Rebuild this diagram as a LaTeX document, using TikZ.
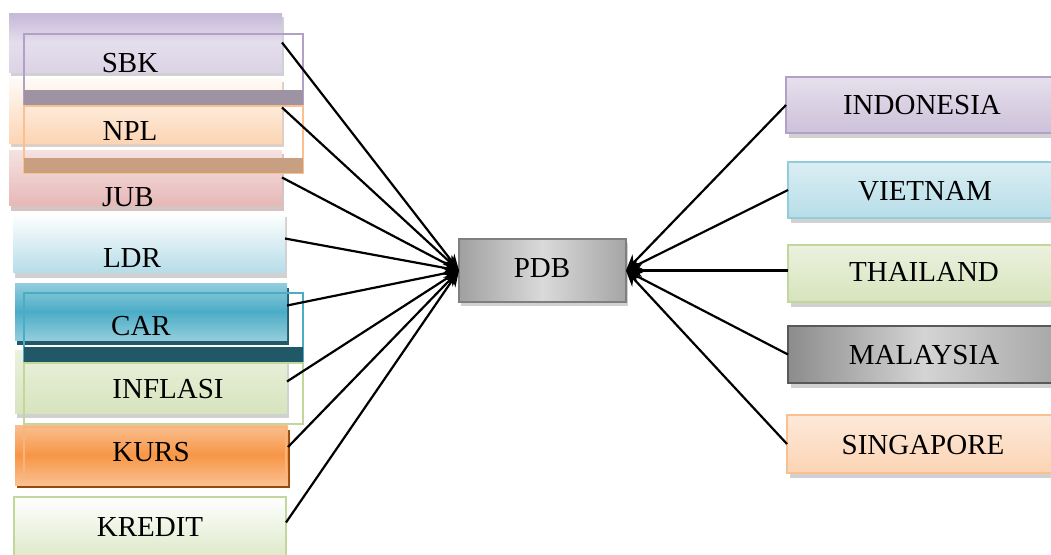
\documentclass[tikz,border=0pt]{standalone}
\usepackage{fontspec}
\setmainfont{Liberation Serif}
\usetikzlibrary{arrows.meta,fit}
\definecolor{cPurLine}{HTML}{B2A1C7}
\definecolor{cPurBar}{HTML}{9E93A3}
\definecolor{cOrLine}{HTML}{FAC090}
\definecolor{cBrBar}{HTML}{C89F80}
\definecolor{cTeal}{HTML}{4BACC6}
\definecolor{cTealDark}{HTML}{215868}
\definecolor{cGreenLine}{HTML}{C3D69B}
\definecolor{cKursShadow}{HTML}{984807}
\definecolor{sbkTop}{HTML}{C5B8D8}
\definecolor{sbkMid}{HTML}{E4DEEC}
\definecolor{sbkBot}{HTML}{DCD4E6}
\definecolor{nplTop}{HTML}{FFFBF7}
\definecolor{nplBot}{HTML}{FCD5B4}
\definecolor{nplShd}{HTML}{DDCFC4}
\definecolor{jubTop}{HTML}{F5E2E1}
\definecolor{jubBot}{HTML}{E6B9B8}
\definecolor{jubShd}{HTML}{D6C4C3}
\definecolor{ldrBot}{HTML}{B7DDE8}
\definecolor{carTop}{HTML}{93CDDD}
\definecolor{carBot}{HTML}{92CDDC}
\definecolor{carShd}{HTML}{215968}
\definecolor{grTop}{HTML}{EBF1DE}
\definecolor{grBot}{HTML}{D7E4BD}
\definecolor{krTop}{HTML}{FABF8F}
\definecolor{krMid}{HTML}{F79646}
\definecolor{krBot}{HTML}{FAC090}
\definecolor{krIn}{HTML}{F9B47E}
\definecolor{kdBot}{HTML}{DCE8C6}
\definecolor{pdbL}{HTML}{A0A0A0}
\definecolor{pdbM}{HTML}{DADADA}
\definecolor{pdbR}{HTML}{A5A5A5}
\definecolor{pdbLine}{HTML}{7F7F7F}
\definecolor{inTop}{HTML}{E6E0EC}
\definecolor{inBot}{HTML}{CCC1DA}
\definecolor{viLine}{HTML}{92CDDC}
\definecolor{viTop}{HTML}{DAEEF3}
\definecolor{viBot}{HTML}{B7DDE8}
\definecolor{maLine}{HTML}{595959}
\definecolor{maL}{HTML}{8C8C8C}
\definecolor{maM}{HTML}{D4D4D4}
\definecolor{maR}{HTML}{A6A6A6}
\definecolor{sgTop}{HTML}{FDE9D9}
\definecolor{sgBot}{HTML}{FBD4B4}
\begin{document}
\begin{tikzpicture}[x=1pt,y=-1pt,
  box/.style={inner sep=0pt,outer sep=0pt,rectangle},
  lbl/.style={inner sep=0pt,font=\fontsize{29}{32}\selectfont},
  shd/.style={fill=black!18},
  conn/.style={line width=2.2pt,-{Stealth[length=16pt,width=13pt]}},
  frame/.style={line width=1.5pt}]
\useasboundingbox (0,0) rectangle (1051,554);
\fill[white] (0,0) rectangle (1051,554);

% ---- left boxes (fills) ----
\fill[shd] (11,17) rectangle (284,76);
\node[box,fit={(9,13) (282,72)},top color=sbkTop,bottom color=sbkBot,middle color=sbkMid] (sbk) {};
\fill[nplShd] (11,82) rectangle (284,147);
\node[box,fit={(9,78) (282,143)},top color=nplTop,bottom color=nplBot] (npl) {};
\fill[jubShd] (11,154) rectangle (284,211);
\node[box,fit={(9,150) (282,205)},top color=jubTop,bottom color=jubBot] (jub) {};
\fill[shd] (15,217) rectangle (287,278);
\node[box,fit={(13,213) (285,272)},top color=white,bottom color=ldrBot] (ldr) {};
\fill[carShd] (17,288) rectangle (289,345);
\node[box,fit={(15,283) (287,340)},top color=carTop,bottom color=carBot,middle color=cTeal] (car) {};
\fill[shd] (17,355) rectangle (289,418);
\node[box,fit={(15,350) (287,413)},top color=grTop,bottom color=grBot] (inflasi) {};
\fill[cKursShadow] (17,430) rectangle (290,488);
\node[box,fit={(15,425) (288,485)},top color=krTop,bottom color=krBot,middle color=krMid] (kurs) {};
\draw[line width=1.2pt,krIn] (24,427) rectangle (286,478);
\node[box,fit={(14,497) (286,560)},draw=cGreenLine,line width=2pt,top color=white,bottom color=kdBot] (kredit) {};

% ---- overlapping frames and bars ----
\draw[frame,cPurLine] (24,34) rectangle (303,106);
\fill[cPurBar] (24,90) rectangle (303,106);
\draw[frame,cOrLine] (24,106) rectangle (303,173);
\fill[cBrBar] (24,158) rectangle (303,173);
\draw[frame,cTeal] (24,293) rectangle (303,363);
\fill[cTealDark] (24,347) rectangle (303,363);
\draw[frame,cGreenLine] (24,363) rectangle (303,424);

% ---- centre ----
\fill[shd] (461,243) rectangle (628,306);
\node[box,fit={(459,239) (626,302)},draw=pdbLine,line width=1.5pt,left color=pdbL,right color=pdbR,middle color=pdbM] (pdb) {};

% ---- right boxes ----
\fill[shd] (789,81) rectangle (1060,138);
\node[box,fit={(786,77) (1060,133)},draw=cPurLine,line width=2pt,top color=inTop,bottom color=inBot] (indo) {};
\fill[shd] (791,166) rectangle (1060,223);
\node[box,fit={(788,162) (1060,218)},draw=viLine,line width=2pt,top color=viTop,bottom color=viBot] (viet) {};
\fill[shd] (791,249) rectangle (1060,307);
\node[box,fit={(788,245) (1060,302)},draw=cGreenLine,line width=2pt,top color=grTop,bottom color=grBot] (thai) {};
\fill[shd] (791,330) rectangle (1060,388);
\node[box,fit={(788,326) (1060,383)},draw=maLine,line width=2pt,left color=maL,right color=maR,middle color=maM] (malay) {};
\fill[shd] (790,419) rectangle (1060,478);
\node[box,fit={(787,415) (1060,473)},draw=cOrLine,line width=2pt,top color=sgTop,bottom color=sgBot] (sing) {};

% ---- labels ----
\node[lbl] (tsbk) at (130,63) {SBK};
\node[lbl] (tnpl) at (130,131) {NPL};
\node[lbl] (tjub) at (128,197) {JUB};
\node[lbl] (tldr) at (132,258) {LDR};
\node[lbl] (tcar) at (141,326) {CAR};
\node[lbl] (tinf) at (168,389) {INFLASI};
\node[lbl] (tkurs) at (151,452) {KURS};
\node[lbl] (tkred) at (150,527) {KREDIT};
\node[lbl] (tpdb) at (542,268) {PDB};
\node[lbl] (tindo) at (922,105) {INDONESIA};
\node[lbl] (tviet) at (925,191) {VIETNAM};
\node[lbl] (tthai) at (924,272) {THAILAND};
\node[lbl] (tmal) at (924,355) {MALAYSIA};
\node[lbl] (tsing) at (923,445) {SINGAPORE};

% ---- connectors ----
\draw[conn] (sbk.east) -- (pdb.west);
\draw[conn] ([yshift=3pt]npl.east) -- (pdb.west);
\draw[conn] (jub.east) -- (pdb.west);
\draw[conn] ([yshift=4pt]ldr.east) -- (pdb.west);
\draw[conn] ([yshift=6pt]car.east) -- (pdb.west);
\draw[conn] (inflasi.east) -- (pdb.west);
\draw[conn] ([yshift=8pt]kurs.east) -- (pdb.west);
\draw[conn] ([yshift=6pt]kredit.east) -- (pdb.west);
\draw[conn] (indo.west) -- (pdb.east);
\draw[conn] (viet.west) -- (pdb.east);
\draw[conn] ([yshift=3pt]thai.west) -- (pdb.east);
\draw[conn] (malay.west) -- (pdb.east);
\draw[conn] (sing.west) -- (pdb.east);
\end{tikzpicture}
\end{document}
